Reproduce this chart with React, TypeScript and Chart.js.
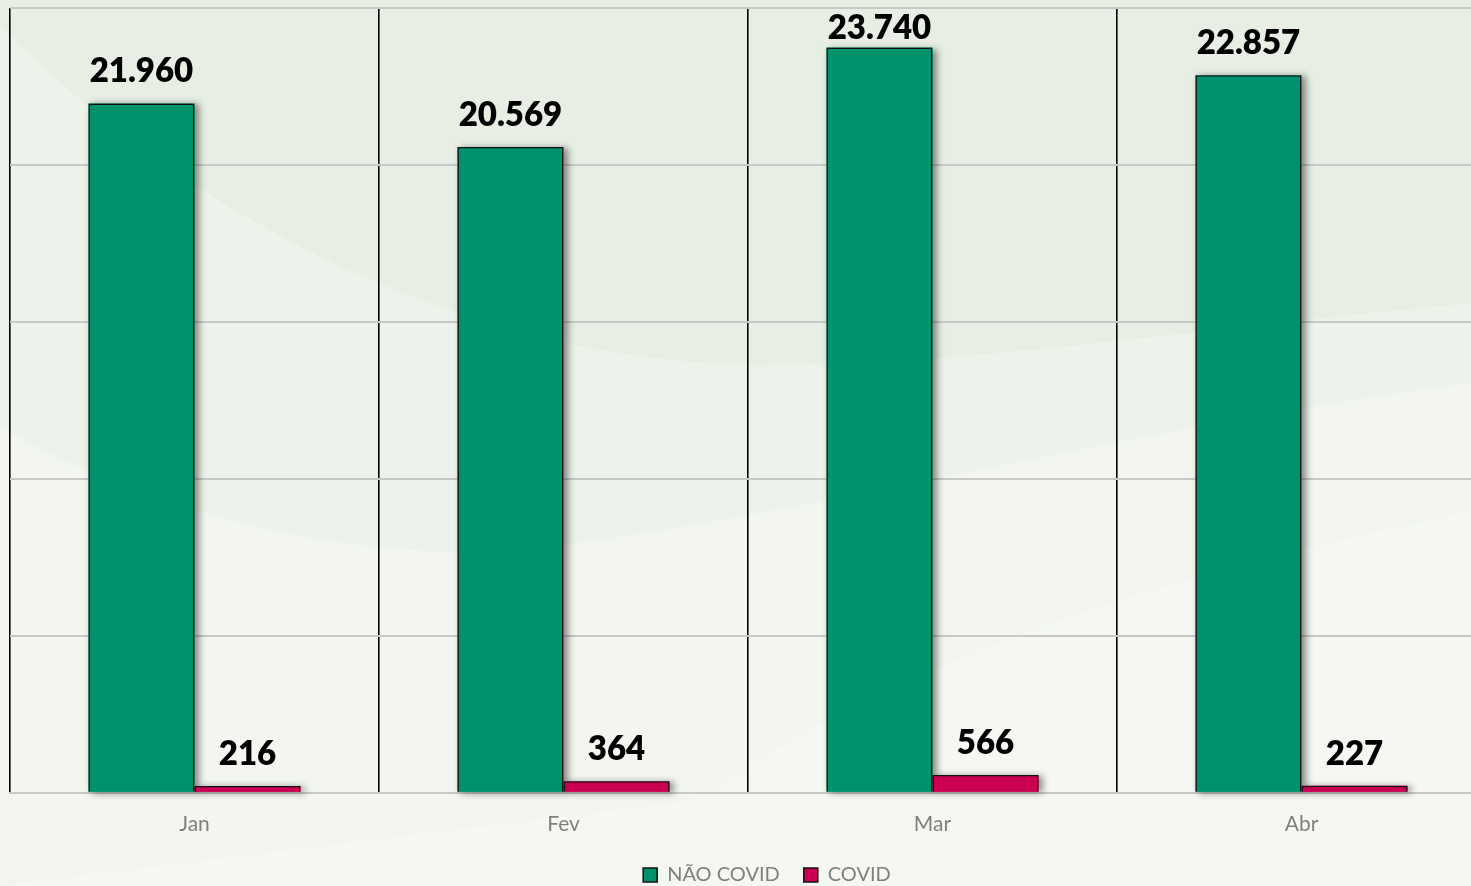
import React, { useEffect, useRef } from "react";
import { Chart, registerables } from "chart.js";

Chart.register(...registerables);

const categories = ["Jan", "Fev", "Mar", "Abr"];
const naoCovid = [21960, 20569, 23740, 22857];
const covid = [216, 364, 566, 227];
const seriesNames = ["NÃO COVID", "COVID"];
const yMax = 25000;
const yStep = 5000;

const fmt = (v: number) => String(v).replace(/\B(?=(\d{3})+(?!\d))/g, ".");

const backgroundPlugin = {
  id: "bgPlugin",
  beforeDraw(chart: any) {
    const { ctx, width, height } = chart;
    ctx.save();
    ctx.fillStyle = "#f5f8f2";
    ctx.fillRect(0, 0, width, height);
    ctx.fillStyle = "#f2f6ef";
    ctx.beginPath();
    ctx.moveTo(0, 0);
    ctx.lineTo(0, 886);
    ctx.lineTo(700, 800);
    ctx.bezierCurveTo(850, 690, 1100, 580, 1534, 500);
    ctx.lineTo(1534, 0);
    ctx.closePath();
    ctx.fill();
    ctx.fillStyle = "#edf3ea";
    ctx.beginPath();
    ctx.moveTo(0, 0);
    ctx.lineTo(0, 427);
    ctx.bezierCurveTo(180, 530, 380, 560, 520, 550);
    ctx.bezierCurveTo(800, 520, 1150, 420, 1534, 375);
    ctx.lineTo(1534, 0);
    ctx.closePath();
    ctx.fill();
    ctx.fillStyle = "#e7efe4";
    ctx.beginPath();
    ctx.moveTo(0, 0);
    ctx.lineTo(0, 25);
    ctx.bezierCurveTo(200, 230, 480, 360, 750, 365);
    ctx.bezierCurveTo(1000, 365, 1250, 320, 1534, 298);
    ctx.lineTo(1534, 0);
    ctx.closePath();
    ctx.fill();
    ctx.restore();
  },
  beforeDatasetsDraw(chart: any) {
    const ctx = chart.ctx;
    ctx.save();
    ctx.shadowColor = "rgba(0,0,0,0.45)";
    ctx.shadowBlur = 7;
    ctx.shadowOffsetX = 4;
    ctx.shadowOffsetY = 1;
    chart.data.datasets.forEach((ds: any, i: number) => {
      const meta = chart.getDatasetMeta(i);
      meta.data.forEach((bar: any) => {
        const p = bar.getProps(["x", "y", "width", "base"], true);
        ctx.fillStyle = ds.backgroundColor;
        ctx.fillRect(p.x - p.width / 2, p.y, p.width, p.base - p.y);
      });
    });
    ctx.restore();
  },
  afterDatasetsDraw(chart: any) {
    const ctx = chart.ctx;
    ctx.save();
    ctx.font = "800 33px Lato";
    ctx.fillStyle = "#000000";
    ctx.textAlign = "center";
    ctx.textBaseline = "alphabetic";
    const minBaseline = chart.chartArea.top + 31;
    chart.data.datasets.forEach((ds: any, i: number) => {
      const meta = chart.getDatasetMeta(i);
      meta.data.forEach((bar: any, j: number) => {
        const y = Math.max(bar.y - 21, minBaseline);
        ctx.fillText(fmt(ds.data[j]), bar.x, y);
      });
    });
    ctx.restore();
  },
};

export default function App() {
  const ref = useRef<HTMLCanvasElement | null>(null);
  useEffect(() => {
    document.body.style.background = "#f5f8f2";
    const chart = new Chart(ref.current as HTMLCanvasElement, {
      type: "bar",
      data: {
        labels: categories,
        datasets: [
          {
            label: seriesNames[0],
            data: naoCovid,
            backgroundColor: "#00926C",
            borderColor: "#111111",
            borderWidth: 1.5,
            categoryPercentage: 0.575,
            barPercentage: 1.0,
          },
          {
            label: seriesNames[1],
            data: covid,
            backgroundColor: "#CC0052",
            borderColor: "#111111",
            borderWidth: 1.5,
            categoryPercentage: 0.575,
            barPercentage: 1.0,
          },
        ],
      },
      options: {
        animation: false,
        responsive: true,
        maintainAspectRatio: false,
        layout: { padding: { top: 8, left: 0, right: 0, bottom: 0 } },
        plugins: {
          tooltip: { enabled: false },
          legend: {
            position: "bottom",
            labels: {
              boxWidth: 14,
              boxHeight: 14,
              padding: 24,
              color: "#7f7f7f",
              font: { family: "Lato", size: 20 },
            },
          },
        },
        scales: {
          x: {
            grid: {
              display: true,
              offset: true,
              color: "#000000",
              lineWidth: 1.6,
              drawTicks: false,
            },
            border: { display: true, color: "#c8c8c8", width: 2 },
            ticks: {
              color: "#808080",
              padding: 19,
              font: { family: "Lato", size: 21 },
            },
            afterFit: (scale: any) => {
              scale.height -= 15;
            },
          },
          y: {
            min: 0,
            max: yMax,
            position: "left",
            ticks: { display: false, stepSize: yStep },
            grid: { color: "#c8c8c8", lineWidth: 2, drawTicks: false },
            border: { display: false },
            afterFit: (scale: any) => {
              scale.width = 10;
            },
          },
          y2: {
            position: "right",
            display: true,
            ticks: { display: false },
            grid: { display: false, drawTicks: false },
            border: { display: false },
            afterFit: (scale: any) => {
              scale.width = 48;
            },
          },
        },
      },
      plugins: [backgroundPlugin],
    });
    return () => chart.destroy();
  }, []);
  return (
    <div
      style={{
        position: "fixed",
        left: 0,
        top: 0,
        width: 1471,
        height: 886,
        overflow: "hidden",
        background: "#f5f8f2",
      }}
    >
      <div style={{ position: "absolute", left: 0, top: 0, width: 1534, height: 895 }}>
        <canvas ref={ref} />
      </div>
    </div>
  );
}
